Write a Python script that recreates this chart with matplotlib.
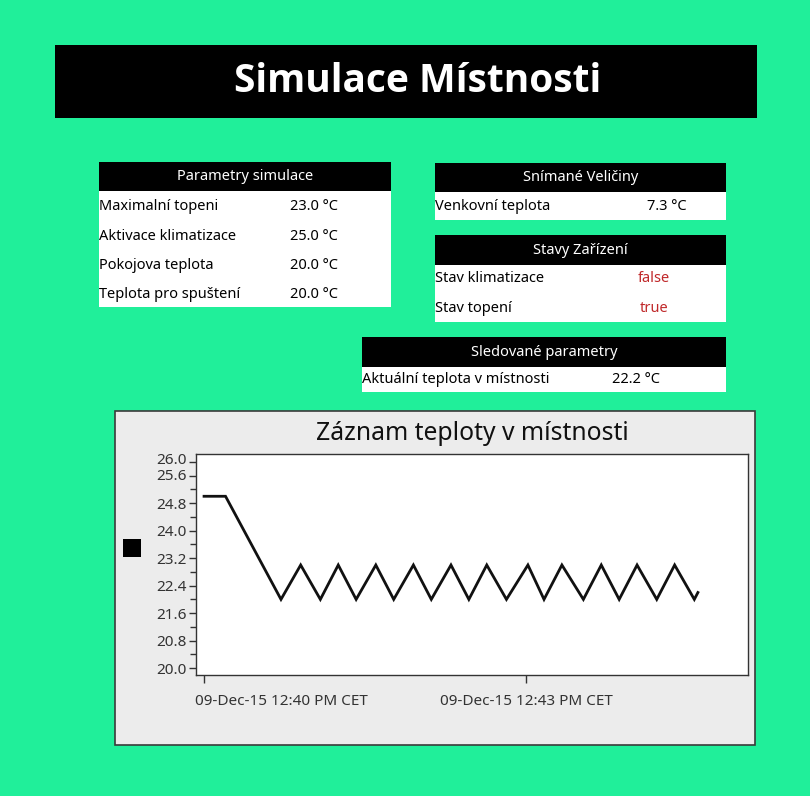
import matplotlib
matplotlib.use("Agg")
import matplotlib.pyplot as plt
import matplotlib.dates as mdates
from matplotlib.patches import Rectangle
from matplotlib.ticker import FixedLocator
from matplotlib.transforms import ScaledTranslation
from datetime import datetime, timedelta

# ---------------- data ----------------
title_text = "Simulace Místnosti"

sim_header = "Parametry simulace"
sim_labels = ["Maximalní topeni", "Aktivace klimatizace", "Pokojova teplota", "Teplota pro spuštení"]
sim_values = ["23.0 °C", "25.0 °C", "20.0 °C", "20.0 °C"]

sensed_header = "Snímané Veličiny"
sensed_labels = ["Venkovní teplota"]
sensed_values = ["7.3 °C"]

state_header = "Stavy Zařízení"
state_labels = ["Stav klimatizace", "Stav topení"]
state_values = ["false", "true"]

monitor_header = "Sledované parametry"
monitor_labels = ["Aktuální teplota v místnosti"]
monitor_values = ["22.2 °C"]

chart_title = "Záznam teploty v místnosti"
start_time = "2015-12-09 12:40:00"
time_offsets_s = [0, 12, 43, 54, 65, 75, 85, 96, 106, 117, 127, 138, 148, 158,
                  169, 181, 190, 200, 212, 222, 232, 242, 253, 263, 274, 276]
temperatures = [25.0, 25.0, 22.0, 23.0, 22.0, 23.0, 22.0, 23.0, 22.0, 23.0, 22.0,
                23.0, 22.0, 23.0, 22.0, 23.0, 22.0, 23.0, 22.0, 23.0, 22.0, 23.0,
                22.0, 23.0, 22.0, 22.2]
y_major_ticks = [20.0, 20.8, 21.6, 22.4, 23.2, 24.0, 24.8, 25.6, 26.0]
y_minor_ticks = [20.4, 21.2, 22.0, 22.8, 23.6, 24.4, 25.2]
x_tick_times = ["2015-12-09 12:40:00", "2015-12-09 12:43:00"]

# ---------------- figure ----------------
W, H = 810, 796
BG = "#20EF9A"
FONT = "Noto Sans"
fig = plt.figure(figsize=(W / 100, H / 100), dpi=100, facecolor=BG)


def fx(x):
    return x / W


def fy(y):
    return 1 - y / H


def rect(x0, y0, x1, y1, fc, ec="none", lw=0, z=1):
    fig.patches.append(Rectangle((fx(x0), fy(y1)), fx(x1) - fx(x0), fy(y0) - fy(y1),
                                 transform=fig.transFigure, facecolor=fc, edgecolor=ec,
                                 linewidth=lw, zorder=z))


def txt(x, y, s, size=10.5, color="black", ha="left", weight="normal", z=5, family=FONT):
    fig.text(fx(x), fy(y), s, fontsize=size, color=color, ha=ha, va="center",
             fontfamily=family, fontweight=weight, zorder=z)


# main title banner
rect(55, 45, 757, 118, "black")
txt(418, 82, title_text, size=28, color="white", ha="center", weight="bold",
    family="Open Sans")


def panel(x0, x1, y0, header_bottom, body_bottom, header, labels, values, row_ys,
          value_x, value_ha="left", value_color="black"):
    rect(x0, y0, x1, header_bottom, "black")
    rect(x0, header_bottom, x1, body_bottom, "white")
    txt((x0 + x1) / 2, (y0 + header_bottom) / 2, header, size=10.5, color="white", ha="center")
    for lab, val, ry in zip(labels, values, row_ys):
        txt(x0, ry, lab)
        txt(value_x, ry, val, ha=value_ha, color=value_color)


panel(99, 391, 162, 191, 307, sim_header, sim_labels, sim_values,
      [207, 236, 265, 294], 290)
panel(435, 726, 163, 192, 220, sensed_header, sensed_labels, sensed_values,
      [207], 647)
panel(435, 726, 235, 265, 322, state_header, state_labels, state_values,
      [279, 308], 654, value_ha="center", value_color="#C0282A")
panel(362, 726, 337, 367, 392, monitor_header, monitor_labels, monitor_values,
      [380], 612)

# chart panel background
rect(115, 411, 755, 745, "#ECECEC", ec="#3A3A3A", lw=1.2, z=0.5)
# legend square
rect(123, 539, 141, 557, "black", z=2)

# ---------------- chart ----------------
t0 = datetime.strptime(start_time, "%Y-%m-%d %H:%M:%S")
times = [t0 + timedelta(seconds=s) for s in time_offsets_s]

ax = fig.add_axes([fx(196), fy(675), fx(748) - fx(196), fy(454) - fy(675)])
ax.set_zorder(3)
ax.set_facecolor("white")
ax.plot(times, temperatures, color="#111111", linewidth=2.0, solid_joinstyle="miter")

ax.set_ylim(19.8, 26.23)
ax.set_xlim(t0 - timedelta(seconds=4.5), t0 + timedelta(seconds=304))
ax.yaxis.set_major_locator(FixedLocator(y_major_ticks))
ax.yaxis.set_minor_locator(FixedLocator(y_minor_ticks))
ax.set_yticklabels([f"{v:.1f}" for v in y_major_ticks])
xt = [mdates.date2num(datetime.strptime(s, "%Y-%m-%d %H:%M:%S")) for s in x_tick_times]
ax.xaxis.set_major_locator(FixedLocator(xt))
ax.xaxis.set_major_formatter(mdates.DateFormatter("%d-%b-%y %I:%M %p CET"))

for sp in ax.spines.values():
    sp.set_color("#333333")
    sp.set_linewidth(1.0)
ax.tick_params(axis="y", which="major", direction="out", length=5, width=1,
               color="#333333", labelsize=11, labelcolor="#333333", pad=2)
ax.tick_params(axis="y", which="minor", direction="out", length=4, width=1,
               color="#333333")
ax.tick_params(axis="x", which="major", direction="out", length=6, width=1,
               color="#333333", labelsize=11, labelcolor="#333333", pad=8)
for lab in ax.get_xticklabels() + ax.get_yticklabels():
    lab.set_fontfamily(FONT)
first = ax.get_xticklabels()[0]
first.set_horizontalalignment("left")
first.set_transform(first.get_transform() + ScaledTranslation(-9 / 100, 0, fig.dpi_scale_trans))
# the two top y labels sit very close (as in the reference); nudge them apart slightly
ylabs = ax.get_yticklabels()
ylabs[-1].set_verticalalignment("bottom")
ylabs[-1].set_transform(ylabs[-1].get_transform() + ScaledTranslation(0, -6 / 100, fig.dpi_scale_trans))
ylabs[-2].set_verticalalignment("top")
ylabs[-2].set_transform(ylabs[-2].get_transform() + ScaledTranslation(0, 7 / 100, fig.dpi_scale_trans))

fig.text(fx(472), fy(433), chart_title, fontsize=17.8, color="#111111", ha="center",
         va="center", fontfamily=FONT, zorder=5)

fig.savefig("out.png", dpi=100, facecolor=BG)
